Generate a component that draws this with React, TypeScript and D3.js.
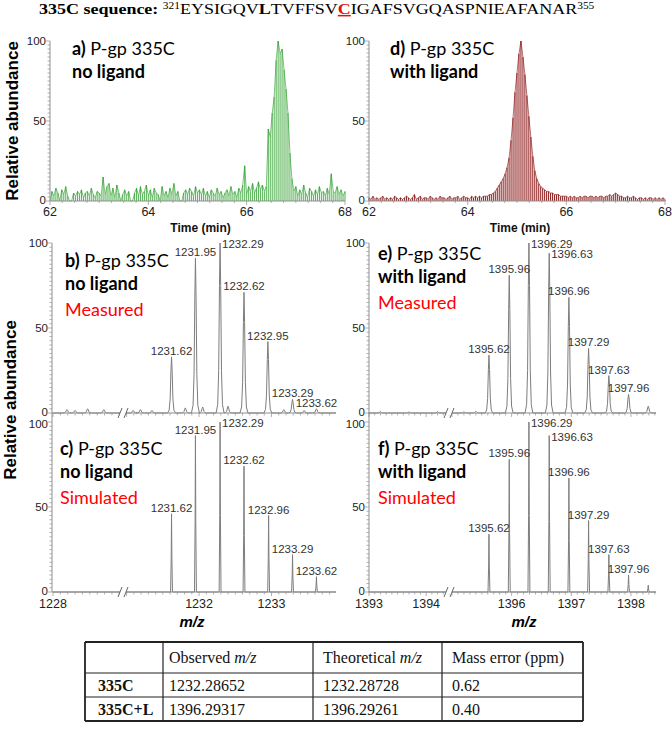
import React from 'react';
import * as d3 from 'd3';

// ---------------- DATA ----------------
const seqStart = '321';
const seqEnd = '355';
const seqParts = ['EYSIGQV', 'L', 'TVFFSV', 'C', 'IGAFSVGQASPNIEAFANAR'];

const timeStart = 62;
const timeStep = 0.04;
const timeTicks = [62, 64, 66, 68];
const abundanceTicks = [0, 50, 100];

// a) extracted ion chromatogram, no ligand (relative abundance every 0.04 min from 62.00)
const chromNoLigand = [
  0, 6, 3, 8, 5, 0, 7, 4, 9, 3,
  0, 0, 5, 3, 6, 4, 7, 2, 5, 6,
  3, 8, 4, 2, 6, 5, 3, 15, 4, 9,
  11, 3, 8, 2, 10, 5, 0, 4, 7, 3,
  6, 0, 0, 5, 8, 3, 9, 4, 6, 10,
  3, 7, 2, 8, 5, 4, 0, 9, 3, 6,
  2, 8, 4, 11, 3, 6, 0, 0, 5, 7,
  4, 8, 6, 3, 9, 5, 7, 4, 8, 3,
  6, 2, 7, 5, 3, 8, 4, 6, 2, 5,
  7, 3, 9, 4, 6, 2, 8, 5, 10, 22,
  4, 9, 6, 11, 5, 8, 12, 7, 10, 6,
  9, 45, 40, 55, 65, 88, 100, 92, 95, 82,
  70, 55, 30, 14, 6, 9, 3, 7, 4, 10,
  5, 2, 8, 6, 3, 7, 4, 9, 5, 6,
  3, 8, 4, 17, 6, 5, 9, 4, 7, 3,
  6,
];

// d) extracted ion chromatogram, with ligand
const chromWithLigand = [
  2, 1, 3, 1, 2, 1, 2, 3, 1, 2,
  1, 2, 1, 3, 2, 1, 2, 1, 2, 3,
  2, 1, 2, 4, 1, 2, 3, 1, 2, 2,
  1, 3, 2, 1, 2, 1, 3, 2, 2, 1,
  2, 3, 1, 2, 2, 3, 1, 2, 3, 2,
  2, 1, 3, 2, 3, 2, 3, 2, 3, 3,
  3, 4, 4, 5, 6, 8, 10, 12, 14, 17,
  21, 27, 38, 52, 68, 80, 92, 100, 90, 79,
  66, 53, 40, 28, 19, 14, 11, 9, 8, 7,
  6, 6, 5, 5, 4, 4, 4, 3, 3, 3,
  3, 2, 3, 2, 3, 2, 2, 3, 2, 3,
  3, 2, 3, 3, 2, 3, 2, 3, 3, 2,
  3, 3, 4, 3, 4, 5, 4, 3, 3, 2,
  2, 3, 2, 2, 3, 2, 1, 2, 2, 1,
  2, 1, 2, 2, 1, 2, 1, 2, 1, 2,
  1,
];

// b) measured, no ligand
const mzB = [1231.62, 1231.95, 1232.29, 1232.62, 1232.95, 1233.29, 1233.62];
const intB = [33, 91, 100, 71, 42, 8, 2.5];
const labelB = ['1231.62', '1231.95', '1232.29', '1232.62', '1232.95', '1233.29', '1233.62'];
const noiseMzB = [1228.19, 1228.3, 1228.47, 1228.69, 1231.09, 1231.19, 1231.35, 1231.81, 1232.05, 1232.4, 1233.17, 1233.45];
const noiseIntB = [2, 1.5, 2.5, 2, 1.5, 2, 1.5, 3, 3.5, 4, 2, 1.5];

// c) simulated, no ligand
const mzC = [1231.62, 1231.95, 1232.29, 1232.62, 1232.96, 1233.29, 1233.62];
const intC = [46, 92, 100, 74, 45, 22, 9];
const labelC = ['1231.62', '1231.95', '1232.29', '1232.62', '1232.96', '1233.29', '1233.62'];

// e) measured, with ligand
const mzE = [1395.62, 1395.96, 1396.29, 1396.63, 1396.96, 1397.29, 1397.63, 1397.96, 1398.29];
const intE = [34, 81, 100, 94, 68, 38, 22, 11, 4];
const labelE = ['1395.62', '1395.96', '1396.29', '1396.63', '1396.96', '1397.29', '1397.63', '1397.96', ''];
const noiseMzE = [1393.2, 1393.7, 1394.2, 1395.2, 1395.4];
const noiseIntE = [0.8, 0.6, 0.8, 0.6, 1];

// f) simulated, with ligand
const mzF = [1395.62, 1395.96, 1396.29, 1396.63, 1396.96, 1397.29, 1397.63, 1397.96, 1398.29];
const intF = [34, 78, 100, 92, 67, 42, 22, 10, 4];
const labelF = ['1395.62', '1395.96', '1396.29', '1396.63', '1396.96', '1397.29', '1397.63', '1397.96', ''];

const mzTicksLeft = [1228, 1232, 1233];
const mzTicksRight = [1393, 1394, 1396, 1397, 1398];

// table
const tableHead = ['', 'Observed', 'Theoretical', 'Mass error (ppm)'];
const tableRows = ['335C', '335C+L'];
const observedMz = ['1232.28652', '1396.29317'];
const theoreticalMz = ['1232.28728', '1396.29261'];
const massErrorPpm = ['0.62', '0.40'];

// ---------------- STYLE ----------------
const AX = '#8f8f8f';
const TICK = '#222';
const SANS = 'Liberation Sans, Arial, sans-serif';
const LABEL = 'Lato, Open Sans, sans-serif';
const SERIF = 'Liberation Serif, Times New Roman, serif';
const GREEN = '#2b9e2b';
const DARKRED = '#8a1414';
const SPEC = '#7d7d7d';

type Scale = d3.ScaleLinear<number, number>;

function YAxis({ x, y, k, lower }: { x: number; y: Scale; k: string; lower?: boolean }) {
  const minor = d3.range(0, 101, 2.5);
  const dy = (v: number) => (v === 0 ? 2.5 : v === 100 && lower ? 6 : 4);
  return (
    <g key={k}>
      <line x1={x} x2={x} y1={y(0)} y2={y(100)} stroke={AX} strokeWidth={1} />
      {minor.map((v) => (
        <line key={v} x1={x - (v % 50 === 0 ? 4 : 2.5)} x2={x} y1={y(v)} y2={y(v)} stroke={AX} strokeWidth={0.7} />
      ))}
      {abundanceTicks.map((v) => (
        <text key={'t' + v} x={x - 4} y={y(v) + dy(v)} textAnchor="end" fontFamily={SANS} fontSize={11.5} fill={TICK}>
          {v}
        </text>
      ))}
    </g>
  );
}

function TimeAxis({ x, y0 }: { x: Scale; y0: number }) {
  const minor = d3.range(62, 68.001, 0.25);
  return (
    <g>
      <line x1={x(62)} x2={x(68)} y1={y0} y2={y0} stroke={AX} strokeWidth={1} />
      {minor.map((v) => (
        <line key={v} x1={x(v)} x2={x(v)} y1={y0} y2={y0 + (Math.abs(v - Math.round(v)) < 1e-6 && Math.round(v) % 2 === 0 ? 4 : 2)} stroke={AX} strokeWidth={0.7} />
      ))}
      {timeTicks.map((v) => (
        <text key={v} x={x(v)} y={y0 + 15} textAnchor="middle" fontFamily={SANS} fontSize={12.5} fill={TICK}>
          {v}
        </text>
      ))}
      <text x={(x(62) + x(68)) / 2 + 3} y={y0 + 31} textAnchor="middle" fontFamily={SANS} fontWeight="bold" fontSize={12} fill="#111">
        Time (min)
      </text>
    </g>
  );
}

function Chrom({ values, x, y, color, op }: { values: number[]; x: Scale; y: Scale; color: string; op: number }) {
  const pts: [number, number][] = values.map((v, i) => [x(timeStart + i * timeStep), y(v)]);
  const line = d3.line()(pts) || '';
  return (
    <g>
      {pts.map(([px, py], i) => (
        <line key={i} x1={px} x2={px} y1={y(0)} y2={py} stroke={color} strokeWidth={1.1} strokeOpacity={op} />
      ))}
      <path d={line} fill="none" stroke={color} strokeWidth={0.7} strokeOpacity={0.9} />
    </g>
  );
}

const measuredShape: [number, number][] = [
  [-1, 0], [-0.6, 0.05], [-0.35, 0.25], [-0.15, 0.75], [0, 1], [0.15, 0.75], [0.35, 0.25], [0.6, 0.05], [1, 0],
];
const simulatedShape: [number, number][] = [[-1, 0], [-0.35, 0.45], [0, 1], [0.35, 0.45], [1, 0]];

function spectrumPath(mzs: number[], ints: number[], x: Scale, y: Scale, hw: number, shape: [number, number][]) {
  const dom = x.domain();
  const order = d3.range(mzs.length).sort((a, b) => mzs[a] - mzs[b]);
  const pts: [number, number][] = [[dom[0], 0]];
  order.forEach((i) => shape.forEach(([dx, f]) => pts.push([mzs[i] + dx * hw, ints[i] * f])));
  pts.push([dom[dom.length - 1], 0]);
  return d3.line<[number, number]>().x((d) => x(d[0])).y((d) => y(d[1]))(pts) || '';
}

function PeakLabels({ mzs, ints, labels, x, y }: { mzs: number[]; ints: number[]; labels: string[]; x: Scale; y: Scale }) {
  const maxI = d3.maxIndex(ints);
  return (
    <g>
      {mzs.map((m, i) => {
        if (!labels[i]) return null;
        const beside = i === maxI || (i === maxI + 1 && ints[i] > 85);
        return (
          <text
            key={i}
            x={beside ? x(m) + 2 : x(m)}
            y={beside ? y(ints[i]) + 5 : y(ints[i]) - 2}
            textAnchor={beside ? 'start' : 'middle'}
            fontFamily={SANS}
            fontSize={11.5}
            fill="#333"
          >
            {labels[i]}
          </text>
        );
      })}
    </g>
  );
}

function MzAxis({ x, y0, segs, labels, showLabels, brk }: { x: Scale; y0: number; segs: [number, number][]; labels: number[]; showLabels: boolean; brk: number }) {
  const r = x.range();
  const minor: number[] = [];
  segs.forEach(([a, b]) => d3.range(a, b + 1e-6, 0.1).forEach((v) => minor.push(v)));
  const bx = x(brk);
  return (
    <g>
      <line x1={r[0] - 1} x2={r[r.length - 1]} y1={y0} y2={y0} stroke={AX} strokeWidth={1} />
      {minor.map((v, i) => {
        const major = Math.abs(v - Math.round(v)) < 1e-6;
        return <line key={i} x1={x(v)} x2={x(v)} y1={y0} y2={y0 + (major ? 4 : 2.5)} stroke={AX} strokeWidth={0.7} />;
      })}
      <rect x={bx - 3} y={y0 - 2} width={6} height={4} fill="#fff" />
      <line x1={bx - 5} x2={bx - 1} y1={y0 + 5} y2={y0 - 5} stroke="#666" strokeWidth={1} />
      <line x1={bx + 1} x2={bx + 5} y1={y0 + 5} y2={y0 - 5} stroke="#666" strokeWidth={1} />
      {showLabels &&
        labels.map((v) => (
          <text key={v} x={x(v)} y={y0 + 16} textAnchor="middle" fontFamily={SANS} fontSize={12.5} fill={TICK}>
            {v}
          </text>
        ))}
    </g>
  );
}

function PanelText({ x, y, letter, line2, line3, color3 }: { x: number; y: number; letter: string; line2: string; line3?: string; color3?: string }) {
  return (
    <g fontFamily={LABEL} fontSize={18} fill="#000">
      <text x={x} y={y}>
        <tspan fontWeight="bold">{letter}</tspan>
        <tspan> P-gp 335C</tspan>
      </text>
      <text x={x} y={y + 23} fontWeight="bold">
        {line2}
      </text>
      {line3 && (
        <text x={x} y={y + 49} fill={color3}>
          {line3}
        </text>
      )}
    </g>
  );
}

export default function App() {
  const yA = d3.scaleLinear().domain([0, 100]).range([201, 41]);
  const yM = d3.scaleLinear().domain([0, 100]).range([413, 243]);
  const yS = d3.scaleLinear().domain([0, 100]).range([592, 422]);
  const xA = d3.scaleLinear().domain([62, 68]).range([50, 345]);
  const xD = d3.scaleLinear().domain([62, 68]).range([369, 665]);
  const xL = d3.scaleLinear().domain([1228, 1228.95, 1230.95, 1233.89]).range([53, 123, 123, 336]);
  const xR = d3.scaleLinear().domain([1393, 1394.4, 1394.95, 1398.42]).range([369, 449, 449, 656]);

  const segL: [number, number][] = [[1228, 1228.9], [1231, 1233.8]];
  const segR: [number, number][] = [[1393, 1394.4], [1395, 1398.4]];

  const pathB = spectrumPath([...mzB, ...noiseMzB], [...intB, ...noiseIntB], xL, yM, 0.055, measuredShape);
  const pathC = spectrumPath(mzC, intC, xL, yS, 0.013, simulatedShape);
  const pathE = spectrumPath([...mzE, ...noiseMzE], [...intE, ...noiseIntE], xR, yM, 0.065, measuredShape);
  const pathF = spectrumPath(mzF, intF, xR, yS, 0.016, simulatedShape);

  const cols = [85, 163, 313, 442, 583];
  const rows = [642, 673, 697, 721];

  return (
    <svg width={672} height={735} style={{ position: 'absolute', left: 0, top: 0, background: '#fff' }}>
      <rect width={672} height={735} fill="#fff" />
      {/* Title */}
      <g transform="translate(39,14) scale(1.2,1)">
        <text x={0} y={0} fontFamily={SERIF} fontSize={15} fill="#000">
          <tspan fontWeight="bold">335C sequence: </tspan>
          <tspan fontSize={9.5} dy={-5.5}>{seqStart}</tspan>
          <tspan dy={5.5}>{seqParts[0]}</tspan>
          <tspan fontWeight="bold">{seqParts[1]}</tspan>
          <tspan>{seqParts[2]}</tspan>
          <tspan fontWeight="bold" fill="#e01010" style={{ textDecoration: 'underline' }}>{seqParts[3]}</tspan>
          <tspan>{seqParts[4]}</tspan>
          <tspan fontSize={9.5} dy={-5.5}>{seqEnd}</tspan>
        </text>
      </g>

      {/* y axis titles */}
      <text transform="translate(18,121) rotate(-90)" textAnchor="middle" fontFamily={SANS} fontWeight="bold" fontSize={17} fill="#000">
        Relative abundance
      </text>
      <text transform="translate(16,400) rotate(-90)" textAnchor="middle" fontFamily={SANS} fontWeight="bold" fontSize={17} fill="#000">
        Relative abundance
      </text>

      {/* a) */}
      <Chrom values={chromNoLigand} x={xA} y={yA} color={GREEN} op={0.75} />
      <TimeAxis x={xA} y0={201} />
      <YAxis x={50} y={yA} k="ya" />
      <PanelText x={72} y={55} letter="a)" line2="no ligand" />

      {/* d) */}
      <Chrom values={chromWithLigand} x={xD} y={yA} color={DARKRED} op={0.9} />
      <TimeAxis x={xD} y0={201} />
      <YAxis x={369} y={yA} k="yd" />
      <PanelText x={390} y={55} letter="d)" line2="with ligand" />

      {/* b) */}
      <path d={pathB} fill="none" stroke={SPEC} strokeWidth={1} />
      <MzAxis x={xL} y0={413} segs={segL} labels={mzTicksLeft} showLabels={false} brk={1229.95} />
      <YAxis x={52} y={yM} k="yb" />
      <PeakLabels mzs={mzB} ints={intB} labels={labelB} x={xL} y={yM} />
      <PanelText x={65} y={267} letter="b)" line2="no ligand" line3="Measured" color3="#ff0000" />

      {/* e) */}
      <path d={pathE} fill="none" stroke={SPEC} strokeWidth={1} />
      <MzAxis x={xR} y0={413} segs={segR} labels={mzTicksRight} showLabels={false} brk={1394.7} />
      <YAxis x={369} y={yM} k="ye" />
      <PeakLabels mzs={mzE} ints={intE} labels={labelE} x={xR} y={yM} />
      <PanelText x={378} y={260} letter="e)" line2="with ligand" line3="Measured" color3="#ff0000" />

      {/* c) */}
      <path d={pathC} fill="none" stroke={SPEC} strokeWidth={1} />
      <MzAxis x={xL} y0={592} segs={segL} labels={mzTicksLeft} showLabels={true} brk={1229.95} />
      <YAxis x={52} y={yS} k="yc" lower />
      <line x1={52} x2={52} y1={413} y2={422} stroke={AX} />
      <PeakLabels mzs={mzC} ints={intC} labels={labelC} x={xL} y={yS} />
      <PanelText x={60} y={455} letter="c)" line2="no ligand" line3="Simulated" color3="#ff0000" />

      {/* f) */}
      <path d={pathF} fill="none" stroke={SPEC} strokeWidth={1} />
      <MzAxis x={xR} y0={592} segs={segR} labels={mzTicksRight} showLabels={true} brk={1394.7} />
      <YAxis x={369} y={yS} k="yf" lower />
      <line x1={369} x2={369} y1={413} y2={422} stroke={AX} />
      <PeakLabels mzs={mzF} ints={intF} labels={labelF} x={xR} y={yS} />
      <PanelText x={378} y={455} letter="f)" line2="with ligand" line3="Simulated" color3="#ff0000" />

      {/* m/z axis titles */}
      <text x={192} y={627} textAnchor="middle" fontFamily={SANS} fontWeight="bold" fontStyle="italic" fontSize={15} fill="#000">m/z</text>
      <text x={524} y={627} textAnchor="middle" fontFamily={SANS} fontWeight="bold" fontStyle="italic" fontSize={15} fill="#000">m/z</text>

      {/* table */}
      <g fontFamily={SERIF} fontSize={16} fill="#111">
        {rows.map((ry, i) => (
          <line key={'r' + i} x1={cols[0]} x2={cols[cols.length - 1]} y1={ry} y2={ry} stroke="#222" strokeWidth={i === 0 || i === rows.length - 1 ? 1.8 : 1.2} />
        ))}
        {cols.map((cx, i) => (
          <line key={'c' + i} x1={cx} x2={cx} y1={rows[0]} y2={rows[rows.length - 1]} stroke="#222" strokeWidth={i === 0 || i === cols.length - 1 ? 1.8 : 1.2} />
        ))}
        <text x={cols[1] + 6} y={663}>
          {tableHead[1]} <tspan fontStyle="italic">m/z</tspan>
        </text>
        <text x={cols[2] + 10} y={663}>
          {tableHead[2]} <tspan fontStyle="italic">m/z</tspan>
        </text>
        <text x={cols[3] + 10} y={663}>{tableHead[3]}</text>
        {tableRows.map((r, i) => (
          <g key={r}>
            <text x={cols[0] + 13} y={rows[i + 1] + 17.5} fontWeight="bold">{r}</text>
            <text x={cols[1] + 6} y={rows[i + 1] + 17.5}>{observedMz[i]}</text>
            <text x={cols[2] + 10} y={rows[i + 1] + 17.5}>{theoreticalMz[i]}</text>
            <text x={cols[3] + 10} y={rows[i + 1] + 17.5}>{massErrorPpm[i]}</text>
          </g>
        ))}
      </g>
    </svg>
  );
}
